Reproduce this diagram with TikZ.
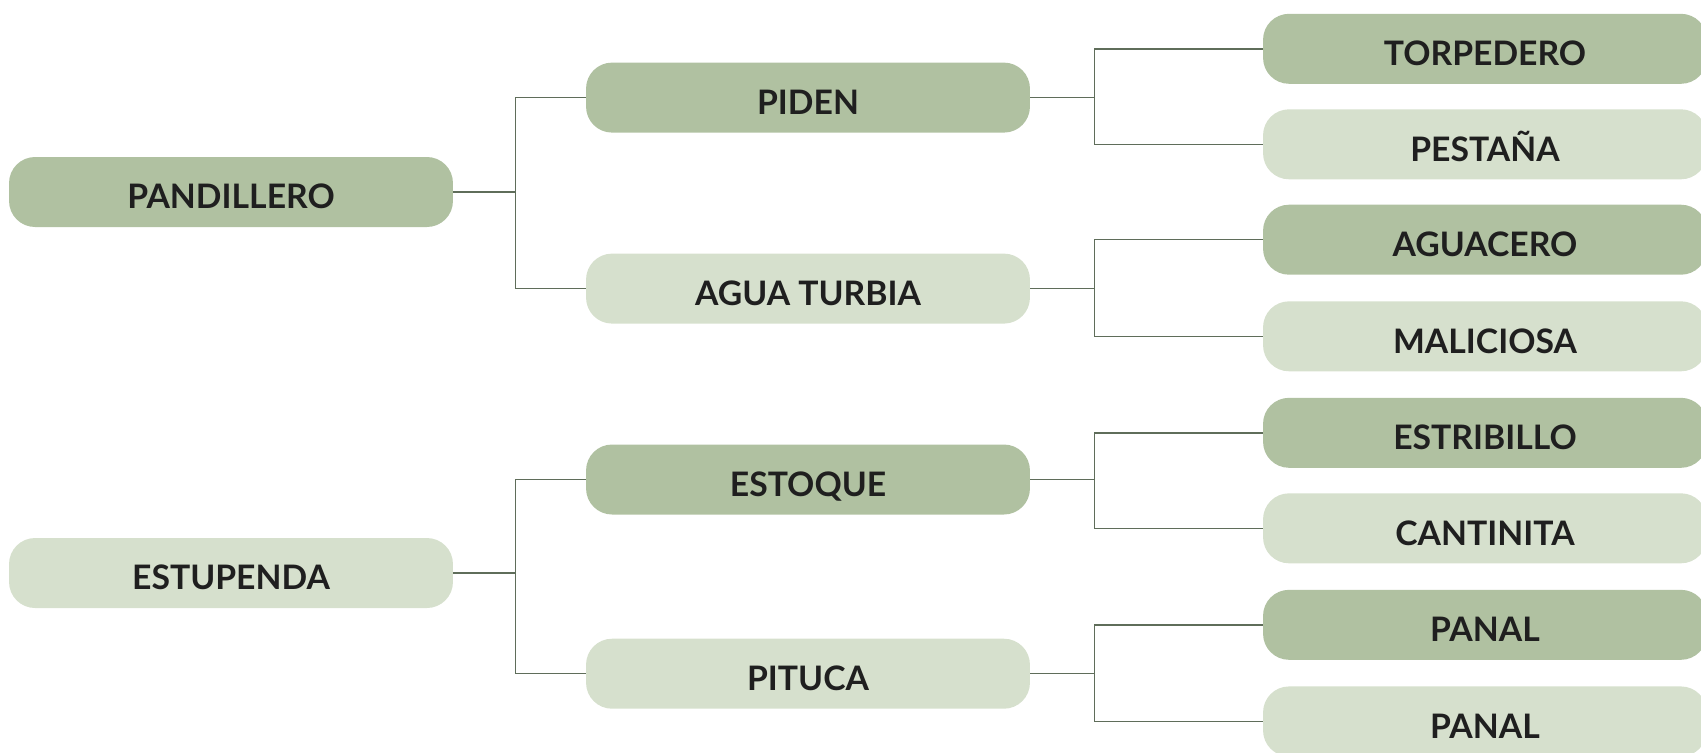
\documentclass[tikz,border=0pt]{standalone}
\usepackage{fontspec}
\setmainfont{Lato}
\definecolor{darkleaf}{HTML}{B0C1A1}
\definecolor{paleleaf}{HTML}{D6E0CD}
\definecolor{stemline}{HTML}{5F6D5A}
\tikzset{
  leaf/.style={rounded corners=0.52cm, minimum width=8.88cm, minimum height=1.4cm, inner sep=0pt,
    text height=19pt, text depth=0pt,
    text=black!88, font=\bfseries\fontsize{19.2}{23}\selectfont},
  darkbox/.style={leaf, fill=darkleaf},
  palebox/.style={leaf, fill=paleleaf},
  stem/.style={draw=stemline, line width=0.8pt},
}
\begin{document}
\begin{tikzpicture}[x=0.02cm,y=-0.02cm]
\clip (0,0) rectangle (1701,752);
% first column
\node[darkbox] (pandillero) at (231,192) {PANDILLERO};
\node[palebox] (estupenda) at (231,573) {ESTUPENDA};
% second column
\node[darkbox] (piden) at (808,97.6) {PIDEN};
\node[palebox] (aguaturbia) at (808,288.6) {AGUA TURBIA};
\node[darkbox] (estoque) at (808,479.5) {ESTOQUE};
\node[palebox] (pituca) at (808,673.7) {PITUCA};
% third column
\node[darkbox] (torpedero) at (1485,48.8) {TORPEDERO};
\node[palebox] (pestana) at (1485,144.3) {PESTAÑA};
\node[darkbox] (aguacero) at (1485,239.7) {AGUACERO};
\node[palebox] (maliciosa) at (1485,336.3) {MALICIOSA};
\node[darkbox] (estribillo) at (1485,432.8) {ESTRIBILLO};
\node[palebox] (cantinita) at (1485,528.3) {CANTINITA};
\node[darkbox] (panalA) at (1485,624.8) {PANAL};
\node[palebox] (panalB) at (1485,721.4) {PANAL};
% connectors
\draw[stem] (pandillero.east) -- ++(62,0) |- (piden.west);
\draw[stem] (pandillero.east) -- ++(62,0) |- (aguaturbia.west);
\draw[stem] (estupenda.east) -- ++(62,0) |- (estoque.west);
\draw[stem] (estupenda.east) -- ++(62,0) |- (pituca.west);
\draw[stem] (piden.east) -- ++(64,0) |- (torpedero.west);
\draw[stem] (piden.east) -- ++(64,0) |- (pestana.west);
\draw[stem] (aguaturbia.east) -- ++(64,0) |- (aguacero.west);
\draw[stem] (aguaturbia.east) -- ++(64,0) |- (maliciosa.west);
\draw[stem] (estoque.east) -- ++(64,0) |- (estribillo.west);
\draw[stem] (estoque.east) -- ++(64,0) |- (cantinita.west);
\draw[stem] (pituca.east) -- ++(64,0) |- (panalA.west);
\draw[stem] (pituca.east) -- ++(64,0) |- (panalB.west);
\end{tikzpicture}
\end{document}
